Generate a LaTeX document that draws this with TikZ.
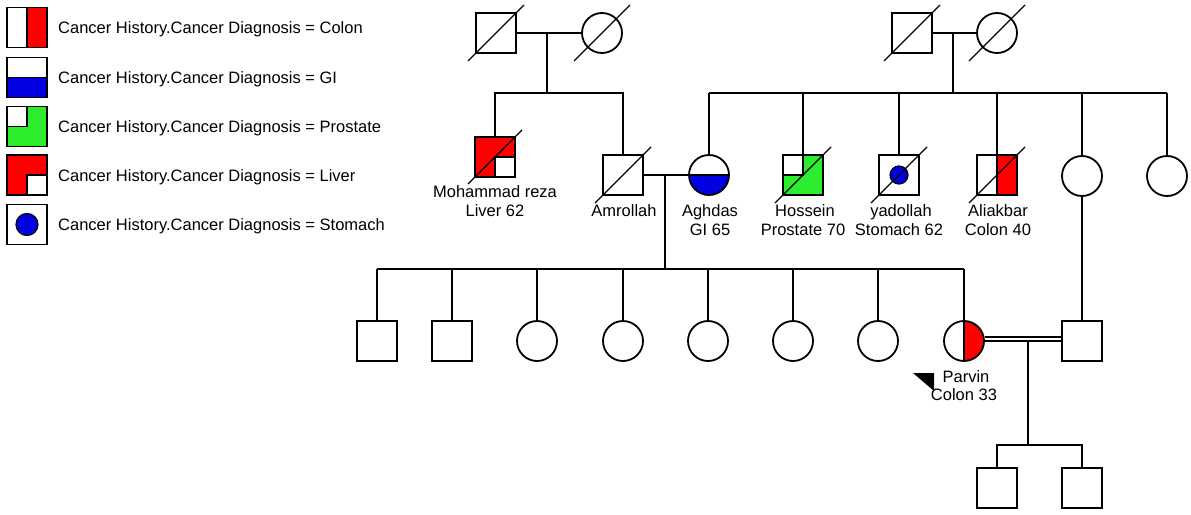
\documentclass[tikz,border=0pt]{standalone}
\usepackage{fontspec}
\setmainfont{Liberation Sans}
\definecolor{cred}{RGB}{255,0,0}
\definecolor{cblue}{RGB}{0,0,225}
\definecolor{cgreen}{RGB}{45,235,45}
\tikzset{
  lw/.style={line width=1.8pt},
  male/.style={draw, line width=1.8pt, rectangle, minimum size=40pt, inner sep=0pt, fill=white},
  female/.style={draw, line width=1.8pt, circle, minimum size=40pt, inner sep=0pt, fill=white},
  colon/.style={path picture={\fill[cred] (path picture bounding box.north) rectangle (path picture bounding box.south east);
     \draw[line width=1.8pt] (path picture bounding box.north) -- (path picture bounding box.south);}},
  gi/.style={path picture={\fill[cblue] (path picture bounding box.west) rectangle (path picture bounding box.south east);
     \draw[line width=1.8pt] (path picture bounding box.west) -- (path picture bounding box.east);}},
  prostate/.style={path picture={\fill[cgreen] (path picture bounding box.south west) rectangle (path picture bounding box.north east);
     \fill[white] (path picture bounding box.north west) rectangle (path picture bounding box.center);
     \draw[line width=1.8pt] (path picture bounding box.west) -- (path picture bounding box.center) -- (path picture bounding box.north);}},
  liver/.style={path picture={\fill[cred] (path picture bounding box.south west) rectangle (path picture bounding box.north east);
     \fill[white] (path picture bounding box.south east) rectangle (path picture bounding box.center);
     \draw[line width=1.8pt] (path picture bounding box.south) -- (path picture bounding box.center) -- (path picture bounding box.east);}},
  stomach/.style={path picture={\filldraw[fill=cblue,draw=black,line width=1.2pt] (path picture bounding box.center) circle[radius=#1];}},
  stomach/.default=9pt,
  slash/.style={line width=1.1pt},
  lbl/.style={font=\fontsize{16.5}{20}\selectfont, anchor=base, inner sep=0pt},
  leg/.style={font=\fontsize{16.5}{20}\selectfont, anchor=base west, inner sep=0pt},
}
\begin{document}
\begin{tikzpicture}[x=1pt,y=-1pt]
\path[use as bounding box] (0,0) rectangle (1191,514);

% ---------- legend ----------
\node[male,colon]    (L1) at (27,27.5) {};
\node[male,gi]       (L2) at (27,77.5) {};
\node[male,prostate] (L3) at (27,126.5) {};
\node[male,liver]    (L4) at (27,175) {};
\node[male,stomach=11pt] (L5) at (27,224.5) {};
\node[leg] (T1) at (58,33.5) {Cancer History.Cancer Diagnosis = Colon};
\node[leg] (T2) at (58,83.5) {Cancer History.Cancer Diagnosis = GI};
\node[leg] (T3) at (58,132.5) {Cancer History.Cancer Diagnosis = Prostate};
\node[leg] (T4) at (58,181) {Cancer History.Cancer Diagnosis = Liver};
\node[leg] (T5) at (58,230.5) {Cancer History.Cancer Diagnosis = Stomach};

% ---------- generation I ----------
\node[male]   (gf1) at (496,33) {};
\node[female] (gm1) at (602,33) {};
\node[male]   (gf2) at (912,33) {};
\node[female] (gm2) at (997,33) {};

% ---------- generation II ----------
\node[male,liver]    (mr) at (495,157) {};
\node[male]          (am) at (623,175) {};
\node[female,gi]     (ag) at (709,175) {};
\node[male,prostate] (ho) at (803,175) {};
\node[male,stomach]  (ya) at (899,175) {};
\node[male,colon]    (al) at (997,175) {};
\node[female]        (f1) at (1082,176) {};
\node[female]        (f2) at (1167,176) {};

% ---------- generation III ----------
\node[male]   (c1) at (377,341) {};
\node[male]   (c2) at (452,341) {};
\node[female] (c3) at (537,341) {};
\node[female] (c4) at (623,341) {};
\node[female] (c5) at (708,341) {};
\node[female] (c6) at (793,341) {};
\node[female] (c7) at (878,341) {};
\node[female,colon] (pa) at (964,341) {};
\node[male]   (sp) at (1082,341) {};

% ---------- generation IV ----------
\node[male] (k1) at (997,488) {};
\node[male] (k2) at (1082,488) {};

% ---------- deceased slashes ----------
\foreach \n in {gf1,gm1,gf2,gm2,am,ho,ya,al}
  \draw[slash] ([shift={(-28,28)}]\n.center) -- ([shift={(28,-28)}]\n.center);
\draw[slash] ([shift={(-27,27)}]mr.center) -- ([shift={(27,-27)}]mr.center);

% ---------- connectors ----------
\coordinate (u1) at (547,33);  \coordinate (s1) at (547,93);
\coordinate (u2) at (953,33);  \coordinate (s2) at (953,93);
\coordinate (u3) at (665,175); \coordinate (s3) at (665,269);
\coordinate (u4) at (1028,341);\coordinate (s4) at (1028,445);

\draw[lw] (gf1.east) -- (gm1.west);
\draw[lw] (u1) -- (s1);
\draw[lw] (mr.north) -- (mr |- s1) -- (am |- s1) -- (am.north);

\draw[lw] (gf2.east) -- (gm2.west);
\draw[lw] (u2) -- (s2);
\draw[lw] (ag |- s2) -- (f2 |- s2);
\foreach \n in {ag,ho,ya,al,f1,f2}
  \draw[lw] (\n |- s2) -- (\n.north);

\draw[lw] (am.east) -- (ag.west);
\draw[lw] (u3) -- (s3);
\draw[lw] (c1 |- s3) -- (pa |- s3);
\foreach \n in {c1,c2,c3,c4,c5,c6,c7,pa}
  \draw[lw] (\n |- s3) -- (\n.north);

\draw[lw] (f1.south) -- (sp.north);
\draw[line width=1.5pt] (pa.east) -- (sp.west);
\draw[line width=1.5pt] ([yshift=4pt]pa.east) -- ([yshift=4pt]sp.west);
\draw[lw] (u4) -- (s4);
\draw[lw] (k1.north) -- (k1 |- s4) -- (k2 |- s4) -- (k2.north);

% proband marker
\fill (913,373) -- (934,373) -- (934,391) -- cycle;

% ---------- labels ----------
\node[lbl] (mrA) at (495,197) {Mohammad reza};
\node[lbl] (mrB) at (495,216) {Liver 62};
\node[lbl] (amA) at (624,216) {Amrollah};
\node[lbl] (agA) at (710,216) {Aghdas};
\node[lbl] (agB) at (710,235) {GI 65};
\node[lbl] (hoA) at (805,216) {Hossein};
\node[lbl] (hoB) at (803,235) {Prostate 70};
\node[lbl] (yaA) at (901,216) {yadollah};
\node[lbl] (yaB) at (899,235) {Stomach 62};
\node[lbl] (alA) at (998,216) {Aliakbar};
\node[lbl] (alB) at (998,235) {Colon 40};
\node[lbl] (paA) at (966,382) {Parvin};
\node[lbl] (paB) at (964,400) {Colon 33};
\end{tikzpicture}
\end{document}
